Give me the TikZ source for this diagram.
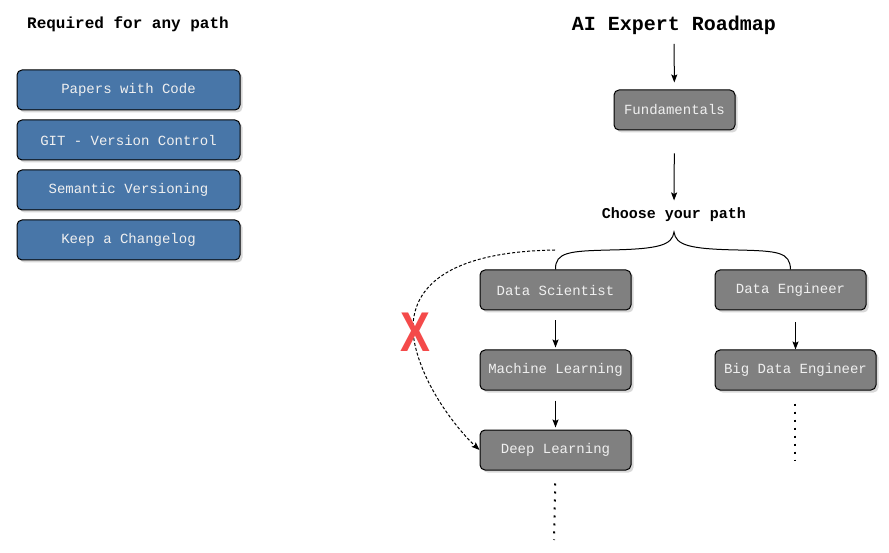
\documentclass[tikz,border=0pt]{standalone}
\usepackage{fontspec}
\setmainfont{Liberation Mono}
\newfontfamily\crossfont{Liberation Sans}
\usetikzlibrary{shadows,arrows.meta}
\definecolor{boxgray}{HTML}{808080}
\definecolor{reqblue}{HTML}{4876A8}
\definecolor{crossred}{HTML}{F44A4A}

\begin{document}
\begin{tikzpicture}[x=1pt,y=-1pt,>={Stealth[length=8pt,width=6pt,inset=1.5pt]}]
	\tikzset{box/.style={draw=black, line width=1pt, rounded corners=5pt, fill=boxgray, text=white!94!black,
			minimum width=151pt, minimum height=40pt, inner sep=0pt, font=\fontsize{14}{16}\selectfont,
			drop shadow={shadow xshift=2.5pt, shadow yshift=-2.5pt, fill=black!30}},
		req/.style={box, fill=reqblue, minimum width=223pt},
		hdr/.style={font=\bfseries\fontsize{16}{18}\selectfont},
		arr/.style={->, line width=1pt},
		dots/.style={line width=2pt, dash pattern=on 2pt off 6pt}}
	\path[use as bounding box] (0,0) rectangle (889,553);
	
	% left column
	\node[hdr](req title) at (128,24) {Required for any path};
	\node[req](pwc) at (128.5,90) {Papers with Code};
	\node[req](git) at (128.5,140) {GIT - Version Control};
	\node[req](semver) at (128.5,190) {Semantic Versioning};
	\node[req](changelog) at (128.5,240) {Keep a Changelog};
	
	% roadmap
	\node[font=\bfseries\fontsize{20}{22}\selectfont](title) at (674,25) {AI Expert Roadmap};
	\node[box, minimum width=121pt](fund) at (674.5,110) {Fundamentals};
	\node[font=\bfseries\fontsize{15}{17}\selectfont](choose) at (674,215) {Choose your path};
	\node[box](ds) at (555.5,290) {Data Scientist};
	\node[box](ml) at (555.5,370) {Machine Learning};
	\node[box](dl) at (555.5,450) {Deep Learning};
	\node[box](de) at (790.5,290) {Data Engineer};
	\node[box, minimum width=161pt](bde) at (795.5,370) {Big Data Engineer};
	
	\draw[arr, shorten <=6pt, shorten >=7pt] (title) -- (fund);
	\draw[arr, shorten <=23pt, shorten >=4pt] (fund) -- (choose);
	\draw[arr, shorten <=10pt, shorten >=2pt] (ds) -- (ml);
	\draw[arr, shorten <=10pt, shorten >=2pt] (ml) -- (dl);
	\draw[arr, shorten <=12pt, shorten >=0pt] (de.south -| bde.north) -- (bde.north);
	
	% brace
	\coordinate (tip) at (674,232);
	\draw[line width=1pt] (ds.north) .. controls (555,252) and (570,251) .. (610,250)
		.. controls (660,249) and (672,245) .. (tip)
		.. controls (676,245) and (688,249) .. (738,250)
		.. controls (778,251) and (790,252) .. (de.north);
	
	% skipping straight to deep learning
	\coordinate (skip) at (555,250);
	\draw[->, line width=1pt, dash pattern=on 3pt off 2pt] (skip) .. controls (430,252) and (405,300) .. (415,345)
		.. controls (425,390) and (460,432) .. (dl.west);
	\node[text=crossred, font=\crossfont\bfseries\fontsize{56}{56}\selectfont, xscale=.8](cross) at (415,332) {X};
	
	\coordinate (dl end) at (554,540);
	\coordinate (bde end) at (795,460);
	\draw[dots, shorten <=13pt] (dl.south) -- (dl end);
	\draw[dots, shorten <=13pt] (bde.south -| bde end) -- (bde end);
\end{tikzpicture}
\end{document}
